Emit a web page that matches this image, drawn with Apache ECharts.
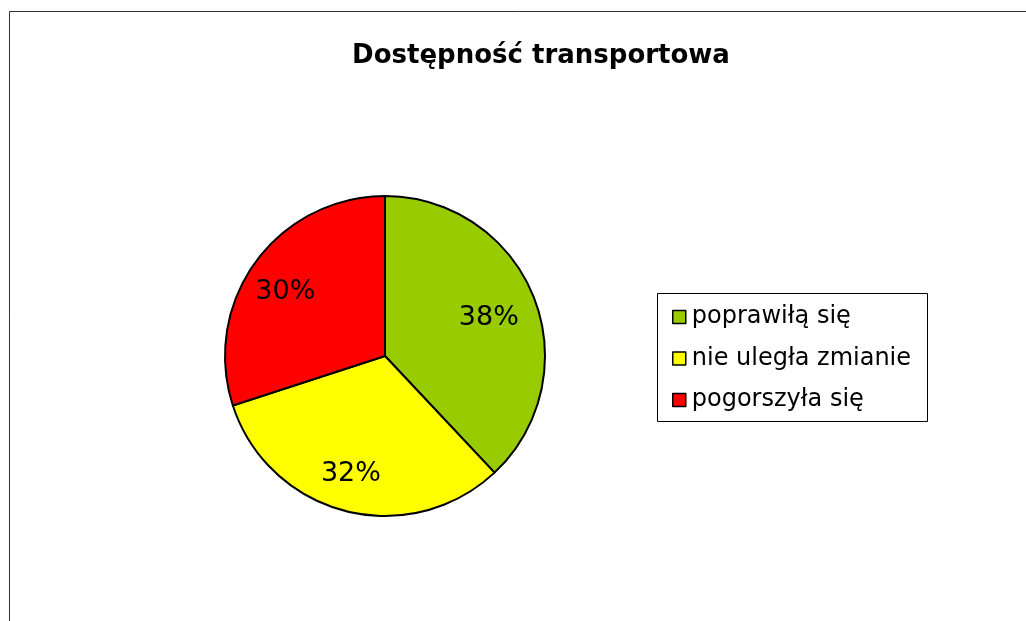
<!DOCTYPE html>
<html>
<head>
<meta charset="utf-8">
<script src="https://cdn.jsdelivr.net/npm/echarts@6/dist/echarts.min.js"></script>
<style>
  html, body { margin: 0; padding: 0; background: #fff; }
  #chart { width: 1026px; height: 621px; }
</style>
</head>
<body>
<div id="chart"></div>
<script>
// dane z wykresu
const categories = ['poprawiłą się', 'nie uległa zmianie', 'pogorszyła się']
const values = [38, 32, 30]
const colors = ['#99CC00', '#FFFF00', '#FF0000']

const font = 'DejaVu Sans'
const pieCenter = [385, 356]

const data = categories.map((name, i) => {
  return { name: name, value: values[i], itemStyle: { color: colors[i] } }
})

const chart = echarts.init(document.getElementById('chart'))
chart.setOption({
  backgroundColor: '#fff',
  animation: false,
  title: {
    text: 'Dostępność transportowa',
    left: 536,
    top: 38,
    textAlign: 'center',
    textStyle: { fontFamily: font, fontSize: 26, fontWeight: 'bold', color: '#000' }
  },
  graphic: [
    {
      type: 'rect',
      shape: { x: 9.5, y: 11.5, width: 1100, height: 700 },
      style: { fill: 'none', stroke: '#333', lineWidth: 1 },
      silent: true
    },
    {
      type: 'rect',
      shape: { x: 657.5, y: 293.5, width: 270, height: 128 },
      style: { fill: 'none', stroke: '#000', lineWidth: 1 },
      silent: true
    }
  ],
  legend: {
    orient: 'vertical',
    left: 672,
    top: 305,
    padding: 0,
    icon: 'rect',
    itemWidth: 13,
    itemHeight: 13,
    itemGap: 17.5,
    data: categories,
    itemStyle: { borderColor: '#000', borderWidth: 1.5 },
    textStyle: { fontFamily: font, fontSize: 24, lineHeight: 24, color: '#000', padding: [0, 0, 0, 1] }
  },
  series: [
    {
      type: 'pie',
      center: pieCenter,
      radius: [0, 160],
      startAngle: 90,
      clockwise: true,
      silent: true,
      label: { show: false },
      labelLine: { show: false },
      itemStyle: { borderColor: '#000', borderWidth: 2 },
      data: data
    },
    {
      // niewidoczna warstwa tylko dla etykiet procentowych
      type: 'pie',
      center: [380, 361],
      radius: [68, 160],
      startAngle: 90,
      clockwise: true,
      silent: true,
      itemStyle: { color: 'transparent', borderWidth: 0 },
      label: {
        show: true,
        position: 'inside',
        formatter: '{c}%',
        fontFamily: font,
        fontSize: 27,
        color: '#000'
      },
      labelLine: { show: false },
      data: categories.map((name, i) => ({ name: name, value: values[i] }))
    }
  ]
})
</script>
</body>
</html>
